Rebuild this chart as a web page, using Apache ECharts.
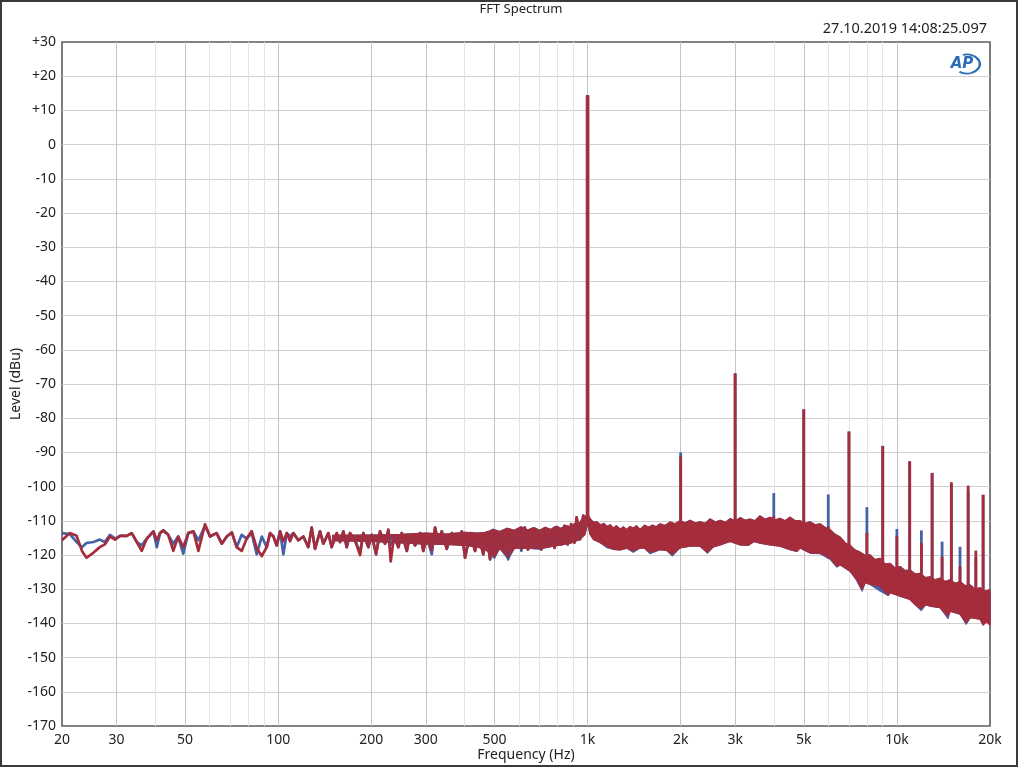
<!DOCTYPE html>
<html>
<head>
<meta charset="utf-8">
<script src="https://cdn.jsdelivr.net/npm/echarts@6/dist/echarts.min.js"></script>
<style>html,body{margin:0;padding:0;background:#fff;}#c{width:1024px;height:768px;}</style>
</head>
<body>
<div id="c"></div>
<script>
// ---------- data ----------
var xTickLabeled = [20, 30, 50, 100, 200, 300, 500, 1000, 2000, 3000, 5000, 10000, 20000];
var xTickMinor = [40, 60, 70, 80, 90, 400, 600, 700, 800, 900, 4000, 6000, 7000, 8000, 9000];

// low-frequency trace (Hz)
var lowFreq = [20,21.2,22.3,23.2,24,25.3,26.5,27.5,28.6,29.7,30.8,32.4,33.6,34.9,36.2,37.6,39.5,40.5,41.5,42.5,44.1,45.8,47.5,49.3,51.2,53.2,55.2,58,60.2,63.2,65.7,68.2,70.8,73.4,76.2,79.1,82.1,85.2,88.5,91.8,
94.1,96.5,98.9,101.4,103.9,106.6,109.2,111.9,116.2,120.6,125.1,128.3,131.5,136.5,139.9,145.2,148.9,154.6,158.4,162.4,166.5,170.6,177.1,183.9,188.4,195.6,200.6,207.2,213.4,221.5,227,231,236.8,244.6,250.8,260.4,266.9,277,287.4,294.5,302.2,313.6,321.4,329.4,337.8,350.6,364,377.8,392.2,401.8,417,432.8,443.6,460.4,
472,484,496,508,521,534,547,554,568,582,597,611,627,642,658,675,692,709,727,745,763,782,802,822,842,863,885,907,922,945,969,986];
var lowBlue = [-113.6,-113.9,-116.2,-117.7,-116.5,-116.2,-115.5,-116.2,-114.1,-115.2,-114.4,-114.4,-113.6,-116.2,-117.2,-115.2,-113.1,-117.7,-113.6,-112.8,-114.1,-116.7,-114.6,-119.6,-113.6,-113.1,-115.7,-111.5,-114.6,-113.6,-116.7,-114.6,-113.4,-117.7,-114.1,-115.2,-113.6,-119.8,-114.6,-117.7,
-113.6,-114.6,-117.2,-113.1,-119.8,-113.6,-114.6,-113.6,-115.7,-114.6,-117.7,-112,-118.2,-113.1,-116.7,-113.6,-117.7,-113.6,-116.2,-113.1,-117.7,-113.6,-115.7,-119.3,-113.6,-117.7,-114.1,-119.8,-113.1,-116.7,-112.6,-117,-114.6,-117.7,-113.6,-118.8,-114.1,-117.2,-113.6,-118.8,-114.6,-119.8,-112,-116.7,-113.1,-118.2,-113.6,-116.7,-113.1,-120.8,-113.6,-118.8,-114.1,-119.8,
-113.4,-121.3,-112.9,-117.4,-113.4,-118.4,-112.5,-121.3,-113.4,-117.9,-112.9,-118.8,-112,-118.4,-113.4,-117.9,-112.9,-118.4,-112.5,-117.4,-112.9,-117.9,-112,-116.9,-111.5,-116.9,-111,-116.4,-109,-115.4,-108.5,-112];
var lowRed = [-115.7,-113.6,-114.4,-118.8,-120.8,-119.3,-117.7,-116.9,-114.6,-115.5,-114.4,-114.4,-113.6,-116.2,-118.8,-115.2,-113.1,-115.7,-113.6,-112.8,-114.1,-118.8,-114.6,-117.7,-113.6,-113.1,-118.8,-111,-114.6,-113.6,-116.7,-114.6,-113.4,-117.7,-118.8,-115.2,-113,-118,-120.3,-117.7,
-113.6,-114.6,-117.2,-113.1,-116,-113.6,-116,-113.6,-115.7,-114.6,-117.7,-112,-118.2,-113.1,-116.7,-113.6,-117.7,-113.6,-116.2,-113.1,-117.7,-113.6,-115.7,-120,-113.6,-117.7,-114.1,-119.8,-113.1,-116.7,-112.6,-121.9,-114.6,-117.7,-113.6,-118.8,-114.1,-117.2,-113.6,-118.8,-114.6,-118.5,-112,-116.7,-113.1,-118.2,-113.6,-116.7,-113.1,-120.8,-113.6,-118.8,-114.1,-119.8,
-113.4,-121.3,-112.9,-117.4,-113.4,-118.4,-112.5,-120.5,-113.4,-117.9,-112.9,-118.2,-112,-118.4,-113.4,-117.9,-112.9,-118.4,-112.5,-117.4,-112.9,-117.9,-112,-116.9,-111.5,-116.9,-111,-116.4,-109,-115.4,-108.5,-112];

// dense noise band: upper edge (shared by both channels)
var topFreq = [150,200,250,300,350,400,440,470,495,520,550,580,610,640,670,700,730,760,790,820,850,880,910,940,960,980,1000,1020,1045,1070,1100,1130,1155,1185,1210,1240,1275,1305,1340,1370,1405,1440,1478,1530,1575,1620,1665,1715,1780,1850,1920,1990,2070,2145,2230,2310,2400,2490,2590,2685,2790,2890,3000,3115,3230,3355,3480,3610,3750,3890,4040,4190,4350,4515,4690,4865,5050,5240,5440,5645,5860,6080,6310,6555,6800,7060,7330,7605,7900,8190,8500,8825,9160,9505,9870,10240,10630,11035,11450,11885,12340,12805,13290,13795,14320,14860,15430,16010,16620,17250,17900,18580,19280,20000];
var bandTop = [-114.3,-114.2,-114,-113.6,-113.9,-113.4,-113.6,-113.5,-112.5,-113.2,-112.2,-112.8,-111.8,-112.7,-112,-112.8,-111.9,-112.6,-111.6,-112.3,-111.4,-111.8,-110.8,-110.8,-109.5,-109,-108,-109.5,-110.5,-110.3,-111.2,-110.8,-111.7,-111.2,-112.2,-111.5,-112.5,-111.8,-112.6,-111.7,-112.2,-111.5,-112.6,-111.3,-111.9,-111.3,-111.8,-110.9,-111.4,-110.4,-110.9,-110,-110.6,-109.9,-110.7,-110.3,-110.8,-109.5,-110.4,-109.9,-110.5,-109.4,-110.1,-109.1,-109.9,-109.5,-110,-108.6,-109.6,-109,-109.8,-109.3,-110,-109,-110,-110,-110.8,-110.3,-111.2,-110.9,-112,-112.6,-114,-114.8,-116.5,-117.2,-118.6,-119.2,-120.2,-120,-121.4,-121,-122.7,-122.5,-123.9,-123.4,-124.6,-124.4,-125.6,-125.4,-126.6,-126.4,-127.3,-126.8,-127.8,-127.3,-128.3,-127.8,-129,-128.8,-130,-129.6,-130.6,-130.2];

// dense noise band: lower edge
var botFreq = [150,200,250,300,350,400,440,470,500,520,554,580,640,700,760,820,880,940,980,1000,1020,1045,1100,1155,1210,1275,1340,1405,1478,1530,1592,1715,1800,1880,1990,2145,2310,2440,2550,2685,2890,3115,3300,3450,3610,3890,4190,4516,4750,4865,5240,5645,6080,6400,6555,7060,7400,7720,7900,8190,8825,9370,9505,10240,11035,11500,11990,12400,12805,13795,14630,14860,16010,16750,17250,18580,19000,19500,20000];
var redBot = [-115.8,-116,-116.4,-116.8,-116.9,-117.2,-117.6,-118.5,-120.5,-118,-120.5,-118,-118,-118,-117.5,-117,-116.5,-115.5,-114,-110.5,-114,-115.4,-116.4,-117.5,-118.3,-118.5,-118,-118.8,-117.9,-118,-119.2,-118.4,-118.6,-119.8,-117.9,-117.4,-117.4,-119.2,-117.6,-117,-116,-117,-117.2,-116,-116.5,-117,-117.4,-118.4,-118.9,-117.9,-119.4,-119.4,-120.8,-123.3,-122.8,-124.7,-127,-130,-128,-128.6,-129.1,-131.8,-131,-132,-133,-134.6,-135.7,-134.5,-134.9,-135.4,-137.8,-136.4,-137.3,-139.8,-138.3,-138.8,-140.5,-139.5,-140.5];
var blueBot = [-115.8,-116,-116.4,-116.8,-116.9,-117.2,-117.6,-118.5,-121,-118,-121.3,-118,-118,-118.3,-117.5,-117,-116.5,-115.5,-114,-110.5,-114,-115.4,-116.4,-117.8,-118.3,-118.5,-118,-119.2,-117.9,-118,-119.6,-118.4,-118.6,-120.2,-117.9,-117.4,-117.4,-119.4,-117.6,-117,-116,-117,-117.2,-116,-116.5,-117,-117.4,-118.4,-118.9,-117.9,-119.4,-119.6,-121.2,-123.5,-122.8,-124.7,-127.3,-130.5,-128,-128.6,-130.5,-131.8,-131,-132,-133,-134.6,-136.2,-134.5,-134.9,-135.4,-138.5,-136.4,-137.3,-140.2,-138.3,-138.6,-140,-139.3,-139.8];

// fundamental and harmonics
var harmFreq = [1000,2000,3000,4000,5000,6000,7000,8000,9000,10000,11000,12000,13000,14000,15000,16000,17000,18000,19000];
var harmBase = [-110,-117,-116,-117,-118,-121,-124,-127,-129,-131,-132,-133,-134,-135,-136,-137,-138,-138,-139];
var harmBlue = [14.4,-90,-66.9,-101.9,-77.4,-102.3,-83.9,-106,-88.1,-112.4,-92.6,-112.8,-96,-116.1,-99.2,-117.6,-101.4,-120.8,-102.4];
var harmRed = [14.4,-91.2,-66.9,-108.7,-77.4,-111.6,-83.9,-113.5,-88.1,-114.5,-92.6,-116.5,-96,-120.5,-98.7,-123.3,-99.7,-118.7,-102.4];

// ---------- chart ----------
var BLUE = '#4662a8';
var RED = '#a52d3b';
var TXT = '#222';
var FONT = 'Noto Sans';

function lineSeries(freq, lev, color) {
  return {
    type: 'line', symbol: 'none', showSymbol: false, silent: true, animation: false,
    data: freq.map(function (f, i) { return [f, lev[i]]; }),
    lineStyle: { color: color, width: 2.7, join: 'round' }
  };
}
function bandSeries(tf, tv, bf, bv, color) {
  return {
    type: 'custom', silent: true, animation: false,
    data: [[tf[0], tv[0]]],
    encode: { x: 0, y: 1 },
    renderItem: function (params, api) {
      var pts = [];
      for (var i = 0; i < tf.length; i++) pts.push(api.coord([tf[i], tv[i]]));
      for (var j = bf.length - 1; j >= 0; j--) pts.push(api.coord([bf[j], bv[j]]));
      return { type: 'polygon', shape: { points: pts }, style: { fill: color, stroke: color, lineWidth: 1.4, lineJoin: 'round' } };
    }
  };
}
function spikeSeries(freq, base, peak, color) {
  return {
    type: 'custom', silent: true, animation: false,
    data: freq.map(function (f, i) { return [f, base[i], peak[i]]; }),
    encode: { x: 0, y: [1, 2] },
    renderItem: function (params, api) {
      var f = api.value(0);
      var p0 = api.coord([f, api.value(1)]);
      var p1 = api.coord([f, api.value(2)]);
      return { type: 'line', shape: { x1: p0[0], y1: p0[1], x2: p1[0], y2: p1[1] },
        style: { stroke: color, lineWidth: params.dataIndex === 0 ? 3.4 : 2.8, lineCap: 'butt' } };
    }
  };
}

var chart = echarts.init(document.getElementById('c'), null, { renderer: 'canvas' });
chart.setOption({
  animation: false,
  backgroundColor: '#ffffff',
  textStyle: { fontFamily: FONT, color: TXT },
  grid: { left: 62, right: 34, top: 42, bottom: 42, containLabel: false, outerBoundsMode: 'none',
    show: true, borderColor: '#5c5c5c', borderWidth: 1.6, backgroundColor: '#fff' },
  xAxis: [{
    type: 'log', logBase: 10, min: 20, max: 20000,
    name: 'Frequency (Hz)', nameLocation: 'middle', nameGap: 22, nameMoveOverlap: false,
    nameTextStyle: { fontFamily: FONT, fontSize: 14, color: TXT },
    axisLine: { show: false }, axisTick: { show: false, customValues: xTickLabeled },
    axisLabel: { customValues: xTickLabeled, margin: 7, fontSize: 14, color: TXT, fontFamily: FONT,
      formatter: function (v) { return v >= 1000 ? (v / 1000) + 'k' : String(v); } },
    splitLine: { show: true, showMinLine: false, showMaxLine: false, lineStyle: { color: '#c4c4c4', width: 1 } }
  }, {
    type: 'log', logBase: 10, min: 20, max: 20000, gridIndex: 0,
    axisLine: { show: false }, axisTick: { show: false, customValues: xTickMinor },
    axisLabel: { show: false, customValues: xTickMinor },
    splitLine: { show: true, lineStyle: { color: '#e4e4e4', width: 1 } }
  }],
  yAxis: {
    type: 'value', min: -170, max: 30, interval: 10,
    name: 'Level (dBu)', nameLocation: 'middle', nameGap: 39, nameRotate: 90, nameMoveOverlap: false,
    nameTextStyle: { fontFamily: FONT, fontSize: 14, color: TXT },
    axisLine: { show: false }, axisTick: { show: false },
    axisLabel: { margin: 6, fontSize: 14, color: TXT, fontFamily: FONT,
      formatter: function (v) { return v > 0 ? '+' + v : String(v); } },
    splitLine: { show: true, showMinLine: false, showMaxLine: false, lineStyle: { color: '#d0d0d0', width: 1 } }
  },
  series: [
    lineSeries(lowFreq, lowBlue, BLUE),
    bandSeries(topFreq, bandTop, botFreq, blueBot, BLUE),
    spikeSeries(harmFreq, harmBase, harmBlue, BLUE),
    lineSeries(lowFreq, lowRed, RED),
    bandSeries(topFreq, bandTop, botFreq, redBot, RED),
    spikeSeries(harmFreq, harmBase, harmRed, RED)
  ],
  graphic: [
    { type: 'rect', shape: { x: 1, y: 1, width: 1016, height: 765 }, style: { fill: null, stroke: '#3a3a3a', lineWidth: 2 }, silent: true, z: 100 },
    { type: 'text', x: 521, y: 9, style: { text: 'FFT Spectrum', fontFamily: FONT, fontSize: 13, fill: TXT, textAlign: 'center', textVerticalAlign: 'middle' }, z: 100 },
    { type: 'text', x: 987, y: 29, style: { text: '27.10.2019 14:08:25.097', fontFamily: FONT, fontSize: 14.5, fill: TXT, textAlign: 'right', textVerticalAlign: 'middle' }, z: 100 },
    { type: 'arc', x: 967, y: 64, scaleX: 1.35, shape: { cx: 0, cy: 0, r: 9.5, startAngle: -1.9, endAngle: 2.2 }, style: { fill: null, stroke: '#2b6cb5', lineWidth: 1.8 }, z: 100 },
    { type: 'text', x: 962, y: 64, style: { text: 'AP', fontFamily: 'DejaVu Sans', fontSize: 15, fontWeight: 'bold', fontStyle: 'italic', fill: '#2b6cb5', textAlign: 'center', textVerticalAlign: 'middle' }, z: 100 }
  ]
});
</script>
</body>
</html>
